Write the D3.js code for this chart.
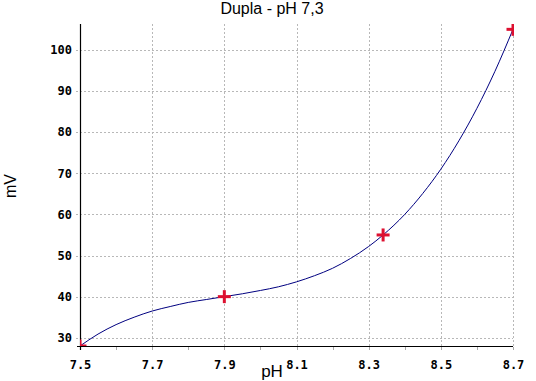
<!DOCTYPE html>
<html><head><meta charset="utf-8">
<script src="https://cdn.jsdelivr.net/npm/d3@7"></script>
<style>body{margin:0;background:#fff}svg{display:block}</style>
</head><body>
<svg id="c" width="536" height="381"></svg>
<script>
const title = "Dupla - pH 7,3";
const xLabel = "pH";
const yLabel = "mV";
const pointsPH = [7.5, 7.9, 8.34, 8.7];
const pointsMV = [28, 40, 55, 105];
const curvePH = [7.5,7.55,7.6,7.65,7.7,7.75,7.8,7.85,7.9,7.95,8.0,8.05,8.1,8.15,8.2,8.25,8.3,8.34,8.4,8.45,8.5,8.55,8.6,8.65,8.7];
const curveMV = [28,30.9,33.2,35.0,36.5,37.6,38.6,39.3,40,40.7,41.5,42.4,43.6,45.1,46.9,49.3,52.2,55,60.0,65.1,71.0,77.9,85.8,94.8,105];
const xTicks = [7.5,7.7,7.9,8.1,8.3,8.5,8.7];
const xMinor = [7.6,7.8,8.0,8.2,8.4,8.6];
const yTicks = [30,40,50,60,70,80,90,100];

const L=80,R=513,T=24,B=346;
const x=d3.scaleLinear().domain([7.5,8.7]).range([L,R]);
const y=d3.scaleLinear().domain([28,106.3]).range([B,T]);
const svg=d3.select("#c");

svg.append("defs").append("clipPath").attr("id","clip")
  .append("rect").attr("x",L).attr("y",T).attr("width",R-L+1).attr("height",B-T);

// grid
const g=svg.append("g");
g.selectAll(".vg").data(xTicks.slice(1)).enter().append("line")
  .attr("x1",d=>Math.round(x(d))+0.5).attr("x2",d=>Math.round(x(d))+0.5)
  .attr("y1",T).attr("y2",B).attr("stroke","#b8b8b8").attr("stroke-dasharray","2,2");
g.selectAll(".hg").data(yTicks).enter().append("line")
  .attr("y1",d=>Math.round(y(d))+0.5).attr("y2",d=>Math.round(y(d))+0.5)
  .attr("x1",L-4).attr("x2",R).attr("stroke","#b8b8b8").attr("stroke-dasharray","2,2");

// x axis
const xa=svg.append("g").attr("transform",`translate(0,${B})`)
  .call(d3.axisBottom(x).tickValues(xTicks).tickFormat(d3.format(".1f")).tickSize(0).tickPadding(14));
xa.select(".domain").remove();
xa.selectAll("text").attr("font-family","'DejaVu Sans Mono', monospace").attr("font-weight","bold").attr("font-size","12px").attr("fill","#000");
svg.append("line").attr("x1",L-3).attr("x2",R).attr("y1",B+0.5).attr("y2",B+0.5).attr("stroke","#000").attr("stroke-width",1.2);
svg.selectAll(".xt").data(xTicks.concat(xMinor)).enter().append("line")
  .attr("x1",d=>Math.round(x(d))+0.5).attr("x2",d=>Math.round(x(d))+0.5)
  .attr("y1",B+1).attr("y2",B+4).attr("stroke",d=>d===7.5?"#000":"#aaa");

// y axis
const ya=svg.append("g").attr("transform",`translate(${L},0)`)
  .call(d3.axisLeft(y).tickValues(yTicks).tickSize(0).tickPadding(8));
ya.select(".domain").remove();
ya.selectAll("text").attr("font-family","'DejaVu Sans Mono', monospace").attr("font-weight","bold").attr("font-size","12px").attr("fill","#000");
svg.append("line").attr("x1",L+0.5).attr("x2",L+0.5).attr("y1",T).attr("y2",B+4).attr("stroke","#000").attr("stroke-width",1.2);

// curve
const pg=svg.append("g").attr("clip-path","url(#clip)");
pg.append("path").datum(curvePH.map((d,i)=>[d,curveMV[i]]))
  .attr("d",d3.line().x(d=>x(d[0])).y(d=>y(d[1])).curve(d3.curveMonotoneX))
  .attr("fill","none").attr("stroke","#000080").attr("stroke-width",1);

// markers
const pts=pointsPH.map((d,i)=>[d,pointsMV[i]]);
const mk=pg.selectAll(".m").data(pts).enter().append("g")
  .attr("transform",d=>`translate(${x(d[0])},${y(d[1])})`);
mk.append("line").attr("x1",-6.5).attr("x2",6.5).attr("y1",0).attr("y2",0).attr("stroke","#dd1030").attr("stroke-width",3);
mk.append("line").attr("y1",-6.5).attr("y2",6.5).attr("x1",0).attr("x2",0).attr("stroke","#dd1030").attr("stroke-width",3);

// titles
svg.append("text").attr("x",272).attr("y",14).attr("text-anchor","middle")
  .attr("font-family","'Liberation Sans', Arial, sans-serif").attr("font-size","16px").text(title);
svg.append("text").attr("x",272).attr("y",377).attr("text-anchor","middle")
  .attr("font-family","'Liberation Sans', Arial, sans-serif").attr("font-size","17px").text(xLabel);
svg.append("text").attr("transform","translate(16,186) rotate(-90)").attr("text-anchor","middle")
  .attr("font-family","'Liberation Sans', Arial, sans-serif").attr("font-size","16px").text(yLabel);
</script>
</body></html>
